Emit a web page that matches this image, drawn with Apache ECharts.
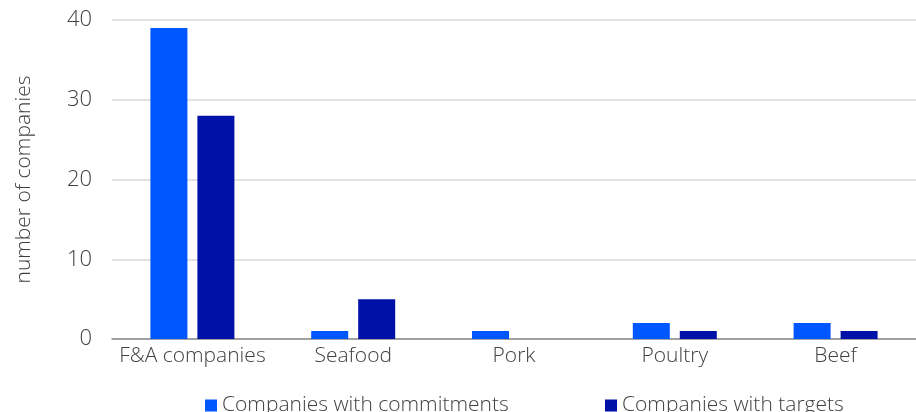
<!DOCTYPE html>
<html>
<head>
<meta charset="utf-8">
<script src="https://cdn.jsdelivr.net/npm/echarts@6/dist/echarts.min.js"></script>
<style>
  html, body { margin: 0; padding: 0; background: #fff; }
  #chart { width: 916px; height: 412px; }
</style>
</head>
<body>
<div id="chart"></div>
<script>
const categories = ['F&A companies', 'Seafood', 'Pork', 'Poultry', 'Beef']
const withCommitments = [39, 1, 1, 2, 2]
const withTargets = [28, 5, 0, 1, 1]
const yTicks = { min: 0, max: 40, interval: 10 }

const font = '"Open Sans", "Noto Sans", sans-serif'
const textColor = '#404040'

const chart = echarts.init(document.getElementById('chart'))
chart.setOption({
  animation: false,
  textStyle: { fontFamily: font },
  grid: { left: 112, right: 0, top: 20, bottom: 73, containLabel: false },
  legend: [
    {
      data: ['Companies with commitments'],
      left: 200, top: 390, icon: 'rect',
      itemWidth: 12, itemHeight: 12, itemGap: 3,
      textStyle: { fontSize: 21, color: textColor, fontFamily: font, fontWeight: 300 }
    },
    {
      data: ['Companies with targets'],
      left: 600, top: 390, icon: 'rect',
      itemWidth: 12, itemHeight: 12, itemGap: 3,
      textStyle: { fontSize: 21, color: textColor, fontFamily: font, fontWeight: 300 }
    }
  ],
  xAxis: {
    type: 'category',
    data: categories,
    axisTick: { show: false },
    axisLine: { lineStyle: { color: '#8c8c8c', width: 1.5 } },
    axisLabel: { interval: 0, fontSize: 21, color: textColor, margin: 7, fontFamily: font, fontWeight: 300 }
  },
  yAxis: {
    type: 'value',
    min: yTicks.min, max: yTicks.max, interval: yTicks.interval,
    name: 'number of companies',
    nameLocation: 'middle',
    nameGap: 77,
    nameTextStyle: { fontSize: 21, color: textColor, fontFamily: font, fontWeight: 300 },
    axisLabel: { fontSize: 22, color: textColor, margin: 20, fontFamily: font, fontWeight: 300 },
    splitLine: { lineStyle: { color: '#d9d9d9', width: 1.5 } },
    axisLine: { show: false },
    axisTick: { show: false }
  },
  series: [
    {
      name: 'Companies with commitments',
      type: 'bar',
      data: withCommitments,
      barWidth: 37,
      barGap: '27%',
      itemStyle: { color: '#0057ff' }
    },
    {
      name: 'Companies with targets',
      type: 'bar',
      data: withTargets,
      barWidth: 37,
      itemStyle: { color: '#0011a8' }
    }
  ]
})
</script>
</body>
</html>
